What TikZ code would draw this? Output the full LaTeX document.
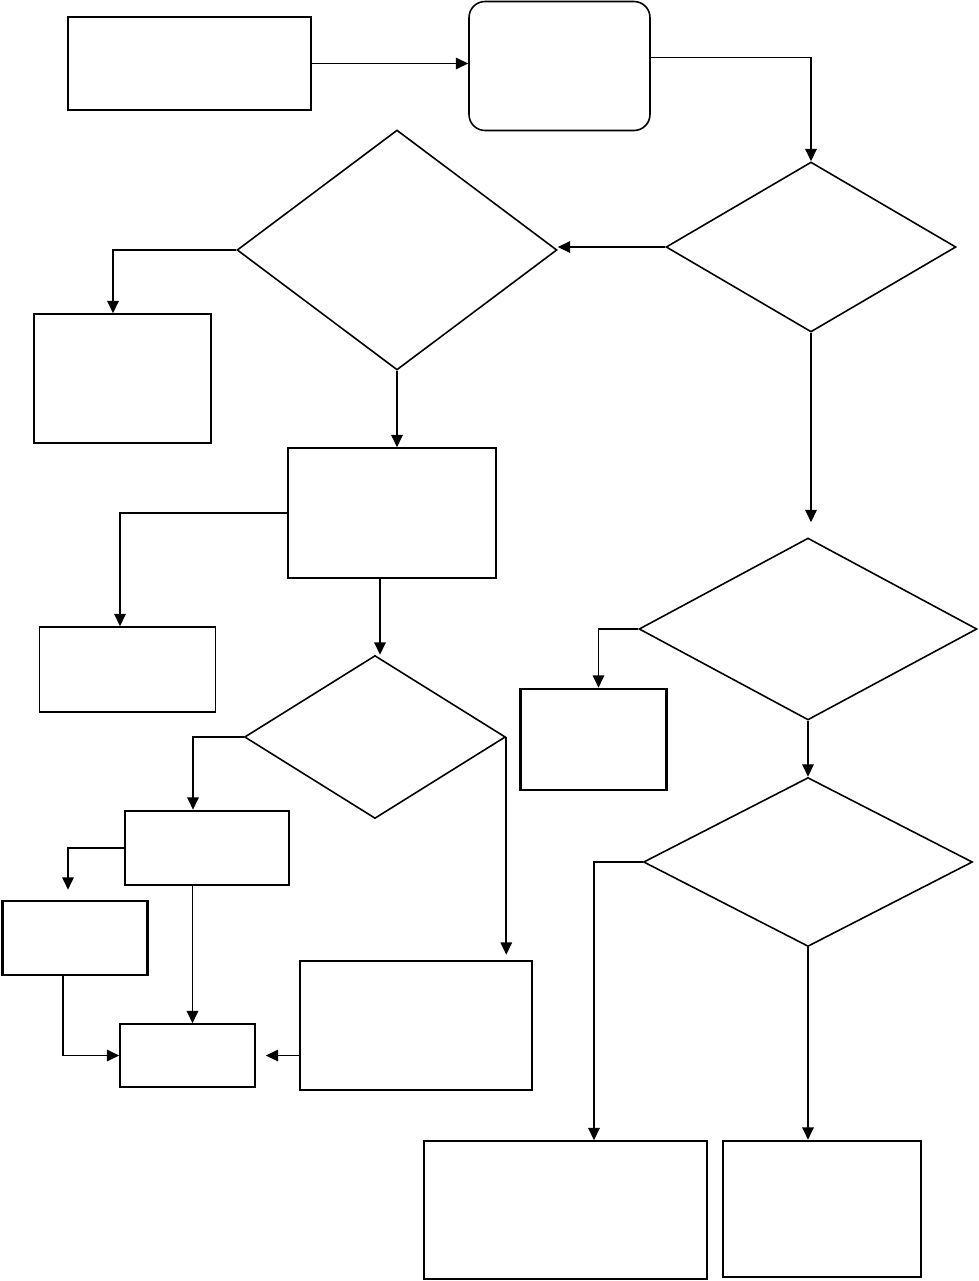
\documentclass[tikz,border=0pt]{standalone}
\usepackage{tikz}
\usetikzlibrary{arrows.meta,positioning,shapes.geometric}

\begin{document}
\begin{tikzpicture}[
  x=0.02cm, y=-0.02cm,
  >={Triangle[length=7pt,width=6.5pt]},
  box/.style={draw, line width=0.9pt, inner sep=0pt},
  heavybox/.style={draw, line width=1.5pt, inner sep=0pt},
  roundbox/.style={draw, line width=0.9pt, rounded corners=0.32cm, inner sep=0pt},
  decision/.style={draw, diamond, line width=0.9pt, inner sep=0pt},
  arr/.style={->, line width=0.9pt}
]
\useasboundingbox (0,0) rectangle (978,1281);

% top row
\node[heavybox, minimum width=4.86cm, minimum height=1.86cm] (start) at (189.5,63.5) {};
\node[roundbox, minimum width=3.62cm, minimum height=2.58cm] (intake) at (559.5,66) {};

% decisions
\node[decision, minimum width=5.8cm, minimum height=3.4cm] (checkA) at (811,247) {};
\node[decision, minimum width=6.4cm, minimum height=4.8cm] (checkB) at (397,250) {};
\node[decision, minimum width=5.22cm, minimum height=3.26cm] (checkC) at (375,737) {};
\node[decision, minimum width=6.76cm, minimum height=3.64cm] (checkD) at (808,629) {};
\node[decision, minimum width=6.58cm, minimum height=3.38cm] (checkE) at (808,862) {};

% boxes
\node[box, minimum width=3.54cm, minimum height=2.58cm] (outB) at (122.5,378.5) {};
\node[box, minimum width=4.16cm, minimum height=2.6cm] (review) at (392,513) {};
\node[box, minimum width=3.52cm, minimum height=1.7cm] (outR) at (127.5,669.5) {};
\node[heavybox, minimum width=3.28cm, minimum height=1.48cm] (hold) at (207,848) {};
\node[heavybox, minimum width=2.92cm, minimum height=2.02cm] (outD) at (593.5,739.5) {};
\node[heavybox, minimum width=2.9cm, minimum height=1.48cm] (retry) at (75,938) {};
\node[box, minimum width=2.7cm, minimum height=1.26cm] (close) at (187.5,1055.5) {};
\node[heavybox, minimum width=4.64cm, minimum height=2.58cm] (reject) at (416,1025.5) {};
\node[box, minimum width=5.66cm, minimum height=2.76cm] (endL) at (565.5,1210) {};
\node[heavybox, minimum width=3.96cm, minimum height=2.72cm] (endR) at (822,1209) {};

% connectors
\draw[arr] (start.east) -- (start.east -| intake.west);
\draw[arr] ([yshift=0.17cm]intake.east) -| (checkA.north);
\draw[arr] (checkA.west) -- (checkA.west -| checkB.east);
\draw[arr] (checkB.west) -| ([xshift=-0.19cm]outB.north);
\draw[arr] (checkB.south) -- (checkB.south |- review.north);
\draw[arr, shorten >=0.3cm] (checkA.south) -- (checkA.south |- checkD.north);
\draw[arr] (review.west) -| ([xshift=-0.15cm]outR.north);
\draw[arr] ([xshift=0.1cm]checkC.north |- review.south) -- ([xshift=0.1cm]checkC.north);
\draw[arr] (checkC.west) -| ([xshift=-0.28cm]hold.north);
\draw[arr, shorten >=0.1cm] (checkC.east) -- (checkC.east |- reject.north);
\draw[arr] (checkD.west) -| ([xshift=0.1cm]outD.north);
\draw[arr] (checkD.south) -- (checkE.north);
\draw[arr] (checkE.west) -| ([xshift=0.57cm]endL.north);
\draw[arr] (checkE.south) -- (checkE.south |- endR.north);
\draw[arr, shorten >=0.2cm] (hold.west) -| ([xshift=-0.14cm]retry.north);
\draw[arr] ([xshift=0.1cm]close.north |- hold.south) -- ([xshift=0.1cm]close.north);
\draw[arr] ([xshift=-0.24cm]retry.south) |- (close.west);
\draw[arr, shorten >=0.2cm] (reject.west |- close.east) -- (close.east);
\end{tikzpicture}
\end{document}
